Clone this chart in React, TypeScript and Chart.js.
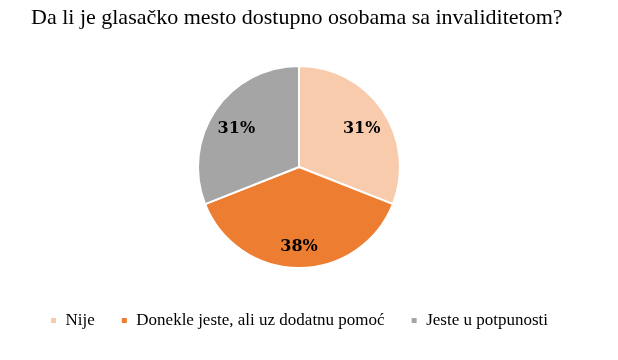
import React, { useEffect, useRef } from "react";
import { Chart, registerables } from "chart.js";

Chart.register(...registerables);

const categories = ["Nije", "Donekle jeste, ali uz dodatnu pomoć", "Jeste u potpunosti"];
const values = [31, 38, 31];
const colors = ["#F8CBAD", "#ED7D31", "#A5A5A5"];
const titleText = "Da li je glasačko mesto dostupno osobama sa invaliditetom?";

const labelPlugin = {
  id: "sliceLabels",
  afterDatasetsDraw(chart: any) {
    const ctx = chart.ctx;
    const meta = chart.getDatasetMeta(0);
    const data = chart.data.datasets[0].data as number[];
    const total = data.reduce((a, b) => a + b, 0);
    ctx.save();
    ctx.font = "bold 16px 'DejaVu Serif'";
    ctx.fillStyle = "#000000";
    ctx.textAlign = "center";
    ctx.textBaseline = "middle";
    meta.data.forEach((arc: any, i: number) => {
      const mid = (arc.startAngle + arc.endAngle) / 2;
      const r = arc.outerRadius * 0.75;
      const x = arc.x + Math.cos(mid) * r;
      const y = arc.y + Math.sin(mid) * r + 4;
      ctx.fillText(Math.round((data[i] / total) * 100) + "%", x, y);
    });
    // title
    ctx.font = "22px 'Liberation Serif'";
    ctx.textAlign = "left";
    ctx.textBaseline = "alphabetic";
    ctx.fillText(titleText, 31, 24);
    ctx.restore();
  },
};

export default function App() {
  const ref = useRef<HTMLCanvasElement>(null);
  useEffect(() => {
    if (!ref.current) return;
    const chart = new Chart(ref.current, {
      type: "pie",
      data: {
        labels: categories,
        datasets: [
          {
            data: values,
            backgroundColor: colors,
            borderColor: "#FFFFFF",
            borderWidth: 2,
            radius: 101,
          },
        ],
      },
      options: {
        responsive: false,
        animation: false,
        layout: { padding: { left: 0, right: 20, top: 48, bottom: 21 } },
        plugins: {
          tooltip: { enabled: false },
          title: { display: false },
          legend: {
            position: "bottom",
            labels: {
              boxWidth: 7,
              boxHeight: 7,
              padding: 26,
              color: "#000000",
              font: { family: "'Liberation Serif'", size: 17 },
            },
          },
        },
      },
      plugins: [labelPlugin],
    });
    return () => chart.destroy();
  }, []);
  return (
    <div style={{ position: "fixed", left: 0, top: 0, width: 618, height: 360, background: "#fff" }}>
      <canvas ref={ref} width={618} height={360} />
    </div>
  );
}
